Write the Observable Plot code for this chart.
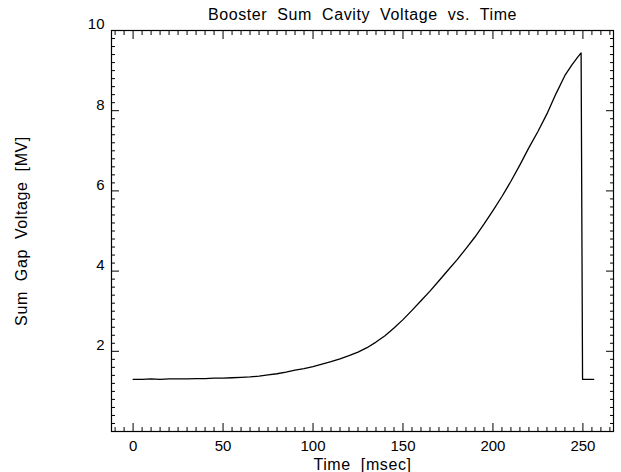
<!DOCTYPE html>
<html>
<head>
<meta charset="utf-8">
<script src="https://cdn.jsdelivr.net/npm/d3@7"></script>
<script src="https://cdn.jsdelivr.net/npm/@observablehq/plot@0.6"></script>
<style>
  html, body { margin: 0; padding: 0; background: #fff; }
  #chart svg { display: block; }
</style>
</head>
<body>
<div id="chart"></div>
<script>
// ---- data ----
const timeMs = [0, 5, 10, 15, 20, 25, 30, 35, 40, 45, 50, 55, 60, 65, 70, 75, 80, 85, 90, 95,
  100, 105, 110, 115, 120, 125, 130, 135, 140, 145, 150, 155, 160, 165, 170, 175, 180, 185, 190, 195,
  200, 205, 210, 215, 220, 225, 230, 235, 240, 244, 247, 249, 249.8, 256];
const voltageMV = [1.30, 1.30, 1.31, 1.30, 1.31, 1.31, 1.31, 1.32, 1.32, 1.33, 1.33, 1.34, 1.35, 1.36, 1.38, 1.41, 1.44, 1.48, 1.53, 1.57,
  1.62, 1.68, 1.74, 1.81, 1.89, 1.98, 2.09, 2.23, 2.39, 2.58, 2.79, 3.02, 3.26, 3.50, 3.76, 4.02, 4.28, 4.56, 4.85, 5.17,
  5.51, 5.86, 6.24, 6.65, 7.08, 7.48, 7.92, 8.42, 8.88, 9.15, 9.33, 9.44, 1.30, 1.30];

const xMajorTicks = [0, 50, 100, 150, 200, 250];
const xMinorTicks = d3.range(-10, 266, 5).filter(v => v % 50 !== 0);
const yMajorTicks = [2, 4, 6, 8, 10];
const yMinorTicks = d3.range(0.2, 10, 0.2).map(v => +v.toFixed(1)).filter(v => Math.abs(v / 2 - Math.round(v / 2)) > 1e-6);

const xDomain = [-12, 267];
const yDomain = [0, 10];

const titleText = "Booster Sum Cavity Voltage vs. Time";
const xLabelText = "Time [msec]";
const yLabelText = "Sum Gap Voltage [MV]";

const series = timeMs.map((t, i) => ({t, v: voltageMV[i]}));

const font = "'Liberation Sans', Arial, Helvetica, sans-serif";

const chart = Plot.plot({
  width: 621,
  height: 472,
  marginLeft: 111,
  marginRight: 8,
  marginTop: 30,
  marginBottom: 41,
  style: {fontFamily: font, fontSize: "14px", color: "#000", background: "#fff"},
  x: {domain: xDomain},
  y: {domain: yDomain},
  marks: [
    Plot.frame({stroke: "#000", strokeWidth: 1.2}),
    // major and minor ticks (inward) on all four sides
    Plot.axisX(xMajorTicks, {anchor: "bottom", tickSize: -8, tickFormat: () => "", label: null}),
    Plot.axisX(xMajorTicks, {anchor: "top", tickSize: -8, tickFormat: () => "", label: null}),
    Plot.axisX(xMinorTicks, {anchor: "bottom", tickSize: -4, tickFormat: () => "", label: null}),
    Plot.axisX(xMinorTicks, {anchor: "top", tickSize: -4, tickFormat: () => "", label: null}),
    Plot.axisY(yMajorTicks, {anchor: "left", tickSize: -8, tickFormat: () => "", label: null}),
    Plot.axisY(yMajorTicks, {anchor: "right", tickSize: -8, tickFormat: () => "", label: null}),
    Plot.axisY(yMinorTicks, {anchor: "left", tickSize: -4, tickFormat: () => "", label: null}),
    Plot.axisY(yMinorTicks, {anchor: "right", tickSize: -4, tickFormat: () => "", label: null}),
    // tick labels
    Plot.axisX(xMajorTicks, {anchor: "bottom", tickSize: 0, tickPadding: 9, label: null, fontSize: 15}),
    Plot.axisY(yMajorTicks, {anchor: "left", tickSize: 0, tickPadding: 7, dy: -6, label: null, fontSize: 15}),
    // data
    Plot.line(series, {x: "t", y: "v", stroke: "#000", strokeWidth: 1.3, curve: "linear"}),
    // titles
    Plot.text([titleText], {frameAnchor: "top", lineAnchor: "middle", dy: -16, fontSize: 16, fill: "#000"}),
    Plot.text([xLabelText], {frameAnchor: "bottom", lineAnchor: "middle", dy: 33, fontSize: 16, fill: "#000"}),
    Plot.text([yLabelText], {frameAnchor: "left", textAnchor: "middle", lineAnchor: "middle", dx: -90, rotate: -90, fontSize: 16, fill: "#000"})
  ]
});
document.getElementById("chart").appendChild(chart);
// wide, airy lettering like the reference's vector font
chart.querySelectorAll("text").forEach(t => {
  if ([titleText, xLabelText, yLabelText].includes(t.textContent)) {
    t.setAttribute("word-spacing", "5");
    t.setAttribute("letter-spacing", "0.6");
  }
});
</script>
</body>
</html>
